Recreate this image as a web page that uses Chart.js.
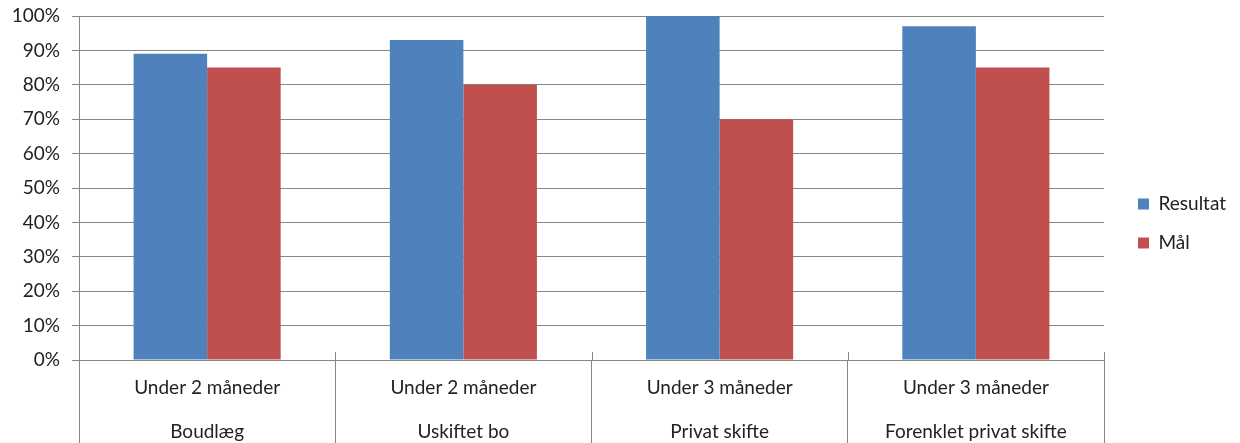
<!DOCTYPE html>
<html>
<head>
<meta charset="utf-8">
<script src="https://cdn.jsdelivr.net/npm/chart.js@4.4.0/dist/chart.umd.min.js"></script>
<style>
  html, body { margin: 0; padding: 0; background: #fff; }
</style>
</head>
<body>
<canvas id="canvas1" width="1240" height="443"></canvas>
<script>
var periods = ["Under 2 måneder", "Under 2 måneder", "Under 3 måneder", "Under 3 måneder"];
var categories = ["Boudlæg", "Uskiftet bo", "Privat skifte", "Forenklet privat skifte"];
var resultat = [89, 93, 100, 97];
var maal = [85, 80, 70, 85];
var yTicks = [0, 10, 20, 30, 40, 50, 60, 70, 80, 90, 100];

var gridGray = '#868686';
var fontName = 'Lato, "Open Sans", sans-serif';

var labels = periods.map(function (p, i) { return [p, categories[i]]; });

// legend box: fixed width, items nudged like the excel legend
var legendLayout = {
  id: 'legendLayout',
  afterInit: function (chart) {
    var lg = chart.legend;
    var fit = lg.fit;
    lg.fit = function () { fit.call(this); this.width = 136; };
  },
  afterLayout: function (chart) {
    chart.legend.left += 14;
    chart.legend.right += 14;
    chart.legend.top -= 6;
    chart.legend.bottom -= 6;
  },
  // category separators poke a bit above the axis
  afterDraw: function (chart) {
    var xs = chart.scales.x, area = chart.chartArea, ctx = chart.ctx;
    ctx.save();
    ctx.strokeStyle = gridGray;
    ctx.lineWidth = 1;
    for (var i = 1; i <= labels.length; i++) {
      var x = Math.round(xs.getPixelForValue(i - 0.5)) + 0.5;
      ctx.beginPath();
      ctx.moveTo(x, area.bottom - 8);
      ctx.lineTo(x, area.bottom);
      ctx.stroke();
    }
    ctx.restore();
  }
};

new Chart(document.getElementById('canvas1'), {
  type: 'bar',
  plugins: [legendLayout],
  data: {
    labels: labels,
    datasets: [{
      label: 'Resultat',
      data: resultat,
      backgroundColor: '#4F81BD',
      borderWidth: 0
    }, {
      label: 'Mål',
      data: maal,
      backgroundColor: '#C0504D',
      borderWidth: 0
    }]
  },
  options: {
    responsive: false,
    animation: false,
    maintainAspectRatio: false,
    layout: { padding: { left: 0, right: 0, top: 16, bottom: 0 } },
    datasets: { bar: { categoryPercentage: 0.574, barPercentage: 1.0 } },
    plugins: {
      tooltip: { enabled: false },
      legend: {
        position: 'right',
        align: 'center',
        labels: {
          boxWidth: 11,
          boxHeight: 11,
          padding: 20,
          color: '#222',
          font: { family: fontName, size: 19 }
        }
      }
    },
    scales: {
      x: {
        offset: true,
        grid: {
          display: true,
          offset: true,
          drawOnChartArea: false,
          drawTicks: true,
          tickLength: 83,
          color: gridGray
        },
        border: { color: gridGray },
        ticks: {
          color: '#222',
          padding: -77,
          maxRotation: 0,
          font: { family: fontName, size: 19, lineHeight: 2.32 }
        },
        afterFit: function (scale) { scale.height = 83; }
      },
      y: {
        min: 0,
        max: 100,
        afterBuildTicks: function (scale) {
          scale.ticks = yTicks.map(function (v) { return { value: v }; });
        },
        grid: {
          color: gridGray,
          tickLength: 7
        },
        border: { color: gridGray },
        ticks: {
          color: '#222',
          padding: 12,
          font: { family: fontName, size: 19 },
          callback: function (v) { return v + '%'; }
        },
        afterFit: function (scale) {
          scale.width = 79;
          scale.paddingTop = 0;
          scale.paddingBottom = 0;
        }
      }
    }
  }
});
</script>
</body>
</html>
